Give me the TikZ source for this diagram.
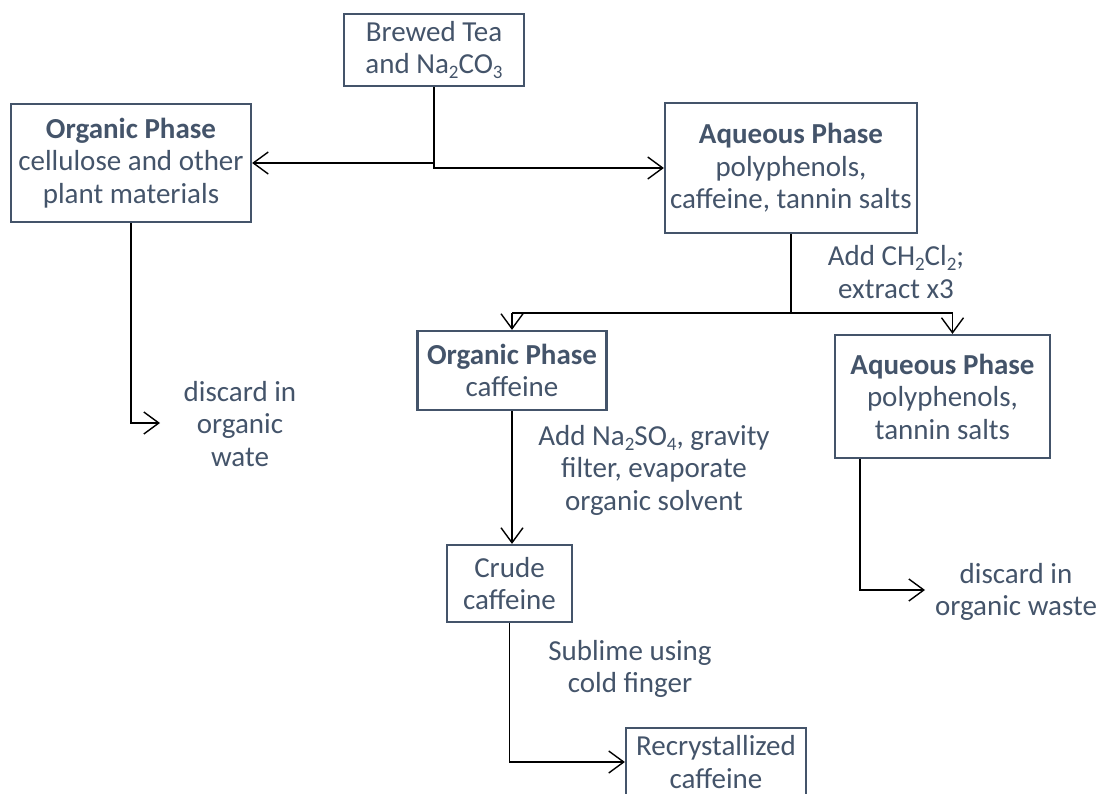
\documentclass[tikz,border=0pt]{standalone}
\usepackage{fontspec}
\setmainfont{Carlito}
\usetikzlibrary{arrows.meta}
\definecolor{slate}{HTML}{44546A}
\newcommand{\lowsub}[1]{\raisebox{-5pt}{\fontsize{19}{19}\selectfont #1}}
\tikzset{
  box/.style={draw=slate, line width=2.2pt, text=slate, align=center, inner sep=0pt,
    font=\fontsize{29}{32.5}\selectfont},
  lbl/.style={text=slate, align=center, inner sep=0pt, font=\fontsize{29}{32.5}\selectfont},
  conn/.style={draw=black, line width=1.4pt},
  arr/.style={conn, -{Straight Barb[length=15pt,width=22pt,line width=1.4pt]}}
}
\begin{document}
\begin{tikzpicture}[x=1pt,y=-1pt]
\useasboundingbox (0,0) rectangle (1103,794);
\node[box, minimum width=180, minimum height=72] (tea) at (434,50) {Brewed Tea\\and Na\lowsub{2}CO\lowsub{3}};
\node[box, minimum width=240, minimum height=118] (orgL) at (131,163) {\textbf{Organic Phase}\\cellulose and other\\plant materials};
\node[box, minimum width=252, minimum height=130] (aq1) at (791,168) {\textbf{Aqueous Phase}\\polyphenols,\\caffeine, tannin salts};
\node[box, minimum width=189, minimum height=79] (org2) at (512,370.5) {\textbf{Organic Phase}\\caffeine};
\node[box, minimum width=215, minimum height=123] (aq2) at (942.5,396.5) {\textbf{Aqueous Phase}\\polyphenols,\\tannin salts};
\node[box, minimum width=125, minimum height=77] (crude) at (509.5,583.5) {Crude\\caffeine};
\node[box, minimum width=180, minimum height=68] (recr) at (716,762) {Recrystallized\\caffeine};

\node[lbl] (l1) at (896,272) {Add CH\lowsub{2}Cl\lowsub{2};\\extract x3};
\node[lbl] (l2) at (654,470) {Add Na\lowsub{2}SO\lowsub{4}, gravity\\filter, evaporate\\organic solvent};
\node[lbl] (l3) at (630,669) {Sublime using\\cold finger};
\node[lbl] (dL) at (240,424) {discard in\\organic\\wate};
\node[lbl] (dR) at (1016,592) {discard in\\organic waste};

% tea splits
\draw[arr] (tea.south) |- (aq1.west);
\draw[arr] (tea.south |- orgL.east) -- (orgL.east);
% aqueous split
\coordinate (s) at (791,313);
\draw[conn] (aq1.south) -- (s);
\draw[conn] (org2.north |- s) -- ([xshift=10]aq2.north |- s);
\draw[arr] (org2.north |- s) -- (org2.north);
\draw[arr] ([xshift=10]aq2.north |- s) -- ([xshift=10]aq2.north);
% left discard
\coordinate (dLa) at (160,423);
\draw[arr] (orgL.south) |- (dLa);
% organic to crude
\draw[arr] (org2.south) -- (org2.south |- crude.north);
% crude to recryst
\draw[arr] (crude.south) |- (recr.west);
% right discard
\coordinate (dRa) at (925,590);
\draw[arr] ([xshift=-82.5]aq2.south) |- (dRa);
\end{tikzpicture}
\end{document}
